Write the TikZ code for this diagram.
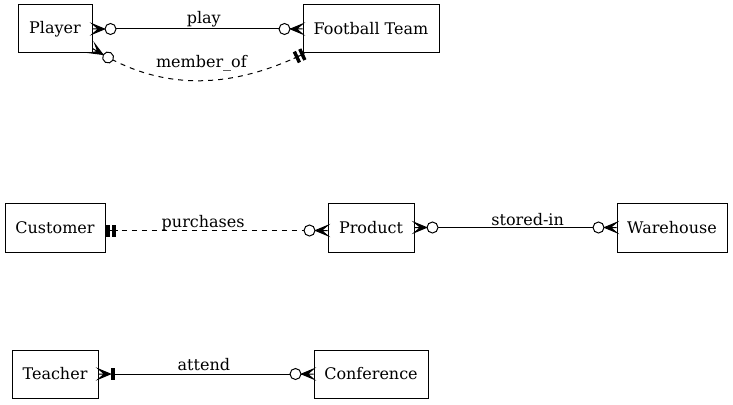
\documentclass[tikz,border=0pt]{standalone}
\usepackage{fontspec}
\setmainfont{DejaVu Serif}
\usetikzlibrary{arrows.meta}

% crow's foot tip: prongs open at the entity
\pgfdeclarearrow{
  name = Crow,
  parameters = {\the\pgfarrowlength,\the\pgfarrowwidth},
  setup code = {
    \pgfarrowssettipend{0pt}
    \pgfarrowssetbackend{-\pgfarrowlength}
    \pgfarrowssetlineend{-\pgfarrowlength}
    \pgfarrowshullpoint{0pt}{.5\pgfarrowwidth}
    \pgfarrowshullpoint{0pt}{-.5\pgfarrowwidth}
    \pgfarrowshullpoint{-\pgfarrowlength}{0pt}
    \pgfarrowssavethe\pgfarrowlength
    \pgfarrowssavethe\pgfarrowwidth
  },
  drawing code = {
    \pgfsetdash{}{0pt}
    \pgfsetmiterjoin
    \pgfpathmoveto{\pgfqpoint{-\pgfarrowlength}{0pt}}
    \pgfpathlineto{\pgfqpoint{0pt}{-.5\pgfarrowwidth}}
    \pgfpathlineto{\pgfqpoint{-.5\pgfarrowlength}{0pt}}
    \pgfpathlineto{\pgfqpoint{0pt}{0pt}}
    \pgfpathlineto{\pgfqpoint{-.5\pgfarrowlength}{0pt}}
    \pgfpathlineto{\pgfqpoint{0pt}{.5\pgfarrowwidth}}
    \pgfpathclose
    \pgfusepathqfillstroke
  },
  defaults = {length = 12pt, width = 10pt}
}

% tee tip: one bar with the line running through it
\pgfdeclarearrow{
  name = Tee,
  parameters = {\the\pgfarrowlength,\the\pgfarrowwidth},
  setup code = {
    \pgfarrowssettipend{0pt}
    \pgfarrowssetbackend{-\pgfarrowlength}
    \pgfarrowssetlineend{-\pgfarrowlength}
    \pgfarrowshullpoint{0pt}{.5\pgfarrowwidth}
    \pgfarrowshullpoint{0pt}{-.5\pgfarrowwidth}
    \pgfarrowshullpoint{-\pgfarrowlength}{.5\pgfarrowwidth}
    \pgfarrowshullpoint{-\pgfarrowlength}{-.5\pgfarrowwidth}
    \pgfarrowssavethe\pgfarrowlength
    \pgfarrowssavethe\pgfarrowwidth
  },
  drawing code = {
    \pgfsetdash{}{0pt}
    \pgfpathrectanglecorners{\pgfqpoint{-.2\pgfarrowlength}{-.5\pgfarrowwidth}}
      {\pgfqpoint{-.6\pgfarrowlength}{.5\pgfarrowwidth}}
    \pgfusepathqfillstroke
    \pgfpathmoveto{\pgfqpoint{0pt}{0pt}}
    \pgfpathlineto{\pgfqpoint{-\pgfarrowlength}{0pt}}
    \pgfusepathqstroke
  },
  defaults = {length = 6pt, width = 11pt}
}

\tikzset{
  entity/.style={draw, line width=1pt, minimum height=48pt, inner xsep=2pt,
    font=\fontsize{16}{18}\selectfont},
  rel/.style={line width=1pt},
  dash5/.style={dash pattern=on 5pt off 5pt},
  lbl/.style={above, inner sep=1pt, font=\fontsize{16}{18}\selectfont}
}

\begin{document}
\begin{tikzpicture}[x=1pt,y=-1pt]
\useasboundingbox (0,0) rectangle (733,404);
% entities
\node[entity, minimum width=74pt] (player) at (55,29) {Player};
\node[entity, minimum width=136pt] (team) at (371,29) {Football Team};
\node[entity, minimum width=100pt, minimum height=49pt] (customer) at (55,227.5) {Customer};
\node[entity, minimum width=86pt, minimum height=49pt] (product) at (371,227.5) {Product};
\node[entity, minimum width=110pt, minimum height=49pt] (warehouse) at (672,227.5) {Warehouse};
\node[entity, minimum width=86pt] (teacher) at (55,374) {Teacher};
\node[entity, minimum width=114pt] (conference) at (371,374) {Conference};
% relationships
\draw[rel, {Crow[] Circle[fill=white,length=12pt]}-{Circle[fill=white,length=12pt] Crow[]}]
  (player) -- node[lbl, pos=.53] {play} (team);
\draw[rel, dash5, {Crow[] Circle[fill=white,length=12pt]}-{Tee[] Tee[]}]
  ([yshift=5pt]player.south east) to[out=-30, in=-155] node[lbl, pos=.52, yshift=7pt] {member\_of} ([xshift=2pt]team.south west);
\draw[rel, dash5, {Tee[] Tee[]}-{Circle[fill=white,length=12pt] Crow[]}]
  ([yshift=-3pt]customer.east) -- node[lbl, pos=.44, inner sep=0pt, yshift=-1pt] {purchases} ([yshift=-3pt]product.west);
\draw[rel, {Crow[] Circle[fill=white,length=12pt]}-{Circle[fill=white,length=12pt] Crow[]}]
  (product) -- node[lbl, pos=.56] {stored-in} (warehouse);
\draw[rel, {Crow[] Tee[]}-{Circle[fill=white,length=12pt] Crow[]}]
  (teacher) -- node[lbl, pos=.49, yshift=2pt] {attend} (conference);
\end{tikzpicture}
\end{document}
